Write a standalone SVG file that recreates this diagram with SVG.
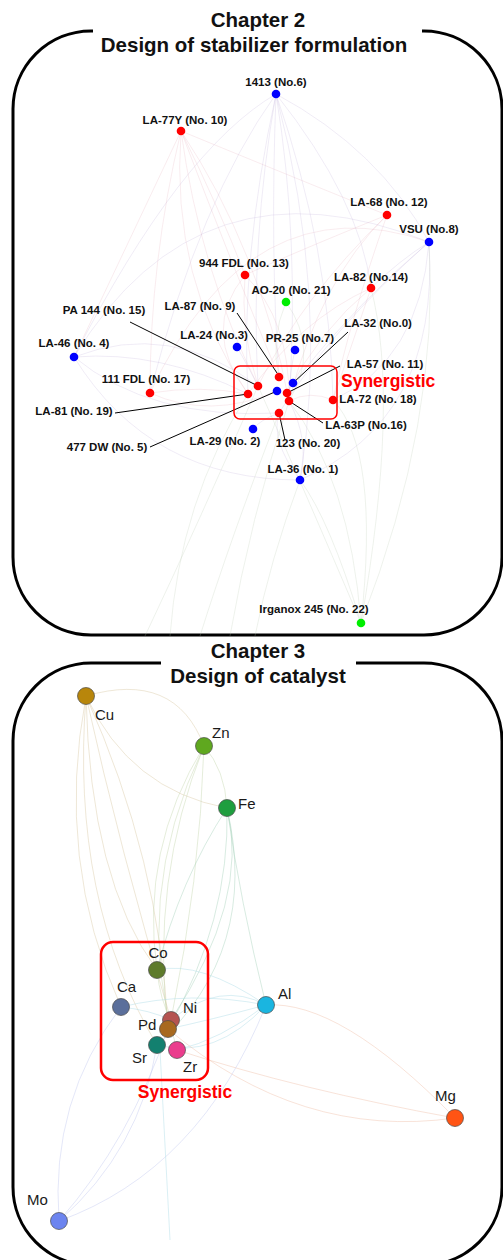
<svg xmlns="http://www.w3.org/2000/svg" width="503" height="1260" viewBox="0 0 503 1260">
<style>
.frame{fill:none;stroke:#000;stroke-width:3}
.title{font-family:"Liberation Sans",Arial,sans-serif;font-weight:bold;font-size:20.5px;fill:#111;text-anchor:middle}
.lbl{font-family:"Liberation Sans",Arial,sans-serif;font-weight:bold;font-size:11.5px;fill:#111}
.mid{text-anchor:middle}
.syn{font-family:"Liberation Sans",Arial,sans-serif;font-weight:bold;font-size:17.5px;fill:#f00}
.synbox{fill:none;stroke:#f00}
.el{font-family:"Liberation Sans",Arial,sans-serif;font-size:15px;fill:#1a1a1a}
.lead{stroke:#000;stroke-width:1;fill:none}
.ep{fill:none;stroke:#b9a3d6;stroke-width:0.7;opacity:0.3}
.er{fill:none;stroke:#e4a3b3;stroke-width:0.7;opacity:0.3}
.eg{fill:none;stroke:#b8c9b0;stroke-width:0.7;opacity:0.35}
.n2{stroke:none}
.n3{stroke:#4a4a4a;stroke-width:0.7}
.c1{fill:none;stroke:#d9cba8;stroke-width:0.7;opacity:0.65}
.c2{fill:none;stroke:#c5d8b0;stroke-width:0.7;opacity:0.65}
.c3{fill:none;stroke:#a9d4bc;stroke-width:0.7;opacity:0.65}
.c4{fill:none;stroke:#aedbe6;stroke-width:0.7;opacity:0.65}
.c5{fill:none;stroke:#f0c2ac;stroke-width:0.7;opacity:0.65}
.c6{fill:none;stroke:#c3cbef;stroke-width:0.7;opacity:0.65}
</style>

<!-- Chapter 2 frame -->
<g id="chapter2-frame">
<path class="frame" d="M422,31 H424 A78,78 0 0 1 502,109 V557 A78,78 0 0 1 424,635 H91 A78,78 0 0 1 13,557 V109 A78,78 0 0 1 91,31 H93"/>
<text class="title" x="258" y="27">Chapter 2</text>
<text class="title" x="254" y="52">Design of stabilizer formulation</text>
</g>

<!-- Chapter 2 connectors -->
<g id="ch2-connectors">
<path class="ep" d="M276,94 Q250,240 258,386"/>
<path class="ep" d="M276,94 Q300,240 289,401"/>
<path class="ep" d="M276,94 Q240,260 248,394"/>
<path class="ep" d="M276,94 Q330,250 333,400"/>
<path class="ep" d="M276,94 Q200,200 150,393"/>
<path class="ep" d="M276,94 Q360,200 371,288"/>
<path class="ep" d="M276,94 Q380,150 429,242"/>
<path class="ep" d="M276,94 Q330,300 300,480"/>
<path class="ep" d="M276,94 Q180,150 74,357"/>
<path class="ep" d="M276,94 Q270,250 279,377"/>
<path class="er" d="M181,131 Q200,270 258,386"/>
<path class="er" d="M181,131 Q230,260 279,377"/>
<path class="er" d="M181,131 Q170,280 248,394"/>
<path class="er" d="M181,131 Q260,250 289,401"/>
<path class="er" d="M181,131 Q150,260 150,393"/>
<path class="er" d="M181,131 Q300,180 387,215"/>
<path class="er" d="M181,131 Q220,210 245,275"/>
<path class="er" d="M181,131 Q120,260 74,357"/>
<path class="er" d="M387,215 Q320,280 289,401"/>
<path class="er" d="M387,215 Q300,300 258,386"/>
<path class="er" d="M387,215 Q350,320 333,400"/>
<path class="er" d="M387,215 Q300,250 245,275"/>
<path class="ep" d="M429,242 Q360,300 293,383"/>
<path class="ep" d="M429,242 Q420,360 333,400"/>
<path class="ep" d="M429,242 Q330,330 279,413"/>
<path class="ep" d="M429,242 Q440,420 300,480"/>
<path class="ep" d="M429,242 Q400,260 371,288"/>
<path class="er" d="M245,275 Q240,330 258,386"/>
<path class="er" d="M245,275 Q290,320 289,401"/>
<path class="er" d="M245,275 Q200,330 248,394"/>
<path class="er" d="M371,288 Q320,330 287,393"/>
<path class="er" d="M371,288 Q350,350 333,400"/>
<path class="er" d="M371,288 Q300,320 248,394"/>
<path class="eg" d="M286,302 Q270,340 279,377"/>
<path class="eg" d="M286,302 Q320,350 289,401"/>
<path class="ep" d="M74,357 Q160,350 248,394"/>
<path class="ep" d="M74,357 Q150,420 279,413"/>
<path class="ep" d="M74,357 Q170,320 258,386"/>
<path class="ep" d="M74,357 Q150,480 300,480"/>
<path class="ep" d="M74,357 Q200,150 429,242"/>
<path class="er" d="M150,393 Q200,385 248,394"/>
<path class="er" d="M150,393 Q210,420 277,391"/>
<path class="er" d="M150,393 Q250,180 429,242"/>
<path class="ep" d="M237,347 Q250,370 258,386"/>
<path class="ep" d="M295,350 Q290,370 289,401"/>
<path class="er" d="M333,400 Q310,390 289,401"/>
<path class="ep" d="M300,480 Q270,440 279,413"/>
<path class="ep" d="M300,480 Q310,440 289,401"/>
<path class="ep" d="M253,429 Q260,420 279,413"/>
<path class="eg" d="M361,623 Q350,480 289,401"/>
<path class="eg" d="M361,623 Q380,450 333,400"/>
<path class="eg" d="M361,623 Q300,480 258,386"/>
<path class="eg" d="M361,623 Q400,400 371,288"/>
<path class="eg" d="M361,623 Q440,420 429,242"/>
<path class="eg" d="M361,623 Q330,520 300,480"/>
<path class="eg" d="M258,386 Q200,520 145,636"/>
<path class="eg" d="M279,413 Q230,540 200,636"/>
<path class="eg" d="M289,401 Q250,520 230,636"/>
<path class="eg" d="M248,394 Q180,500 170,636"/>
<path class="eg" d="M300,480 Q270,560 255,636"/>
</g>

<!-- Chapter 2 leader lines -->
<g id="ch2-leaders">
<line class="lead" x1="130" y1="322" x2="258" y2="386"/>
<line class="lead" x1="237" y1="313" x2="277" y2="373"/>
<line class="lead" x1="348" y1="332" x2="293" y2="383"/>
<line class="lead" x1="340" y1="366" x2="287" y2="393"/>
<line class="lead" x1="115" y1="413" x2="248" y2="394"/>
<line class="lead" x1="150" y1="447" x2="277" y2="391"/>
<line class="lead" x1="285" y1="440" x2="279" y2="413"/>
<line class="lead" x1="323" y1="423" x2="289" y2="401"/>
</g>

<g id="ch2-synergistic">
<rect class="synbox" x="234" y="366" width="103" height="53" rx="6" stroke-width="1.5"/>
<text class="syn" x="341" y="387">Synergistic</text>
</g>

<!-- Chapter 2 nodes -->
<g id="n6"><circle class="n2" cx="276" cy="94" r="4.3" fill="#0000ff"/><text class="lbl mid" x="276" y="86">1413 (No.6)</text></g>
<g id="n10"><circle class="n2" cx="181" cy="131" r="4.3" fill="#ff0000"/><text class="lbl mid" x="185" y="124">LA-77Y (No. 10)</text></g>
<g id="n12"><circle class="n2" cx="387" cy="215" r="4.3" fill="#ff0000"/><text class="lbl mid" x="389" y="206">LA-68 (No. 12)</text></g>
<g id="n8"><circle class="n2" cx="429" cy="242" r="4.3" fill="#0000ff"/><text class="lbl mid" x="429" y="233">VSU (No.8)</text></g>
<g id="n13"><circle class="n2" cx="245" cy="275" r="4.3" fill="#ff0000"/><text class="lbl mid" x="244" y="267">944 FDL (No. 13)</text></g>
<g id="n14"><circle class="n2" cx="371" cy="288" r="4.3" fill="#ff0000"/><text class="lbl mid" x="371" y="281">LA-82 (No.14)</text></g>
<g id="n21"><circle class="n2" cx="286" cy="302" r="4.3" fill="#00ee00"/><text class="lbl mid" x="291" y="294">AO-20 (No. 21)</text></g>
<g id="n15"><circle class="n2" cx="258" cy="386" r="4.3" fill="#ff0000"/><text class="lbl mid" x="104" y="314">PA 144 (No. 15)</text></g>
<g id="n9"><circle class="n2" cx="279" cy="377" r="4.3" fill="#ff0000"/><text class="lbl mid" x="200" y="310">LA-87 (No. 9)</text></g>
<g id="n3"><circle class="n2" cx="237" cy="347" r="4.3" fill="#0000ff"/><text class="lbl mid" x="214" y="339">LA-24 (No.3)</text></g>
<g id="n4"><circle class="n2" cx="74" cy="357" r="4.3" fill="#0000ff"/><text class="lbl mid" x="74" y="347">LA-46 (No. 4)</text></g>
<g id="n7"><circle class="n2" cx="295" cy="350" r="4.3" fill="#0000ff"/><text class="lbl mid" x="300" y="342">PR-25 (No.7)</text></g>
<g id="n0"><circle class="n2" cx="293" cy="383" r="4.3" fill="#0000ff"/><text class="lbl mid" x="378" y="327">LA-32 (No.0)</text></g>
<g id="n11"><circle class="n2" cx="287" cy="393" r="4.3" fill="#ff0000"/><text class="lbl mid" x="385" y="368">LA-57 (No. 11)</text></g>
<g id="n17"><circle class="n2" cx="150" cy="393" r="4.3" fill="#ff0000"/><text class="lbl mid" x="146" y="383">111 FDL (No. 17)</text></g>
<g id="n19"><circle class="n2" cx="248" cy="394" r="4.3" fill="#ff0000"/><text class="lbl mid" x="74" y="415">LA-81 (No. 19)</text></g>
<g id="n5"><circle class="n2" cx="277" cy="391" r="4.3" fill="#0000ff"/><text class="lbl mid" x="107" y="451">477 DW (No. 5)</text></g>
<g id="n16"><circle class="n2" cx="289" cy="401" r="4.3" fill="#ff0000"/><text class="lbl mid" x="366" y="429">LA-63P (No.16)</text></g>
<g id="n18"><circle class="n2" cx="333" cy="400" r="4.3" fill="#ff0000"/><text class="lbl mid" x="378" y="403">LA-72 (No. 18)</text></g>
<g id="n20"><circle class="n2" cx="279" cy="413" r="4.3" fill="#ff0000"/><text class="lbl mid" x="308" y="447">123 (No. 20)</text></g>
<g id="n2"><circle class="n2" cx="253" cy="429" r="4.3" fill="#0000ff"/><text class="lbl mid" x="225" y="445">LA-29 (No. 2)</text></g>
<g id="n1"><circle class="n2" cx="300" cy="480" r="4.3" fill="#0000ff"/><text class="lbl mid" x="303" y="473">LA-36 (No. 1)</text></g>
<g id="n22"><circle class="n2" cx="361" cy="623" r="4.3" fill="#00ee00"/><text class="lbl mid" x="314" y="613">Irganox 245 (No. 22)</text></g>

<!-- Chapter 3 frame -->
<g id="chapter3-frame">
<path class="frame" d="M356,663 H424 A78,78 0 0 1 502,741 V1187 A78,78 0 0 1 424,1265 H91 A78,78 0 0 1 13,1187 V741 A78,78 0 0 1 91,663 H161"/>
<text class="title" x="258" y="658">Chapter 3</text>
<text class="title" x="258" y="683">Design of catalyst</text>
</g>

<!-- Chapter 3 connectors -->
<g id="ch3-connectors">
<path class="c1" d="M86,696 Q175,670 204,746"/>
<path class="c1" d="M86,696 Q130,790 227,808"/>
<path class="c1" d="M86,696 Q55,860 121,1007"/>
<path class="c1" d="M86,696 Q90,880 157,970"/>
<path class="c1" d="M86,696 Q120,850 171,1020"/>
<path class="c1" d="M86,696 Q160,860 168,1029"/>
<path class="c1" d="M86,696 Q70,900 157,1045"/>
<path class="c2" d="M204,746 Q140,850 157,970"/>
<path class="c2" d="M204,746 Q150,880 168,1029"/>
<path class="c2" d="M204,746 Q200,880 171,1020"/>
<path class="c2" d="M204,746 Q225,770 227,808"/>
<path class="c2" d="M204,746 Q130,900 177,1050"/>
<path class="c3" d="M227,808 Q250,900 171,1020"/>
<path class="c3" d="M227,808 Q230,920 168,1029"/>
<path class="c3" d="M227,808 Q260,950 157,1045"/>
<path class="c3" d="M227,808 Q240,900 266,1005"/>
<path class="c3" d="M227,808 Q180,880 157,970"/>
<path class="c4" d="M266,1005 Q220,980 171,1020"/>
<path class="c4" d="M266,1005 Q220,1040 177,1050"/>
<path class="c4" d="M266,1005 Q210,1020 168,1029"/>
<path class="c4" d="M266,1005 Q200,960 157,970"/>
<path class="c4" d="M266,1005 Q190,990 121,1007"/>
<path class="c4" d="M266,1005 Q215,1060 157,1045"/>
<path class="c5" d="M455,1118 Q300,1090 177,1050"/>
<path class="c5" d="M455,1118 Q300,1140 168,1029"/>
<path class="c5" d="M455,1118 Q340,1000 266,1005"/>
<path class="c6" d="M59,1221 Q140,1150 157,1045"/>
<path class="c6" d="M59,1221 Q130,1140 168,1029"/>
<path class="c6" d="M59,1221 Q50,1100 121,1007"/>
<path class="c6" d="M59,1221 Q200,1170 266,1005"/>
<path class="c4" d="M160,1050 L170,1240"/>
<path class="c4" d="M121,1007 Q150,1010 171,1020"/>
<path class="c2" d="M157,970 Q160,1000 171,1020"/>
</g>

<g id="ch3-synergistic">
<rect class="synbox" x="101" y="942" width="107" height="138" rx="12" stroke-width="2.5"/>
<text class="syn" x="185" y="1098" text-anchor="middle">Synergistic</text>
</g>

<!-- Chapter 3 nodes -->
<g id="cu"><circle class="n3" cx="86" cy="696" r="8.5" fill="#b8860b"/><text class="el" x="95" y="720">Cu</text></g>
<g id="zn"><circle class="n3" cx="204" cy="746" r="8.5" fill="#5fa81f"/><text class="el" x="212" y="738">Zn</text></g>
<g id="fe"><circle class="n3" cx="227" cy="808" r="8.5" fill="#1f9e3f"/><text class="el" x="238" y="809">Fe</text></g>
<g id="co"><circle class="n3" cx="157" cy="970" r="8.5" fill="#5e7b2b"/><text class="el" x="158" y="958" text-anchor="middle">Co</text></g>
<g id="ca"><circle class="n3" cx="121" cy="1007" r="8.5" fill="#5b6f9b"/><text class="el" x="117" y="992">Ca</text></g>
<g id="al"><circle class="n3" cx="266" cy="1005" r="8.5" fill="#1ab5e0"/><text class="el" x="278" y="999">Al</text></g>
<g id="ni"><circle class="n3" cx="171" cy="1020" r="8.5" fill="#b55450"/><text class="el" x="183" y="1013">Ni</text></g>
<g id="pd"><circle class="n3" cx="168" cy="1029" r="8.5" fill="#a8691f"/><text class="el" x="138" y="1030">Pd</text></g>
<g id="sr"><circle class="n3" cx="157" cy="1045" r="8.5" fill="#13806f"/><text class="el" x="132" y="1063">Sr</text></g>
<g id="zr"><circle class="n3" cx="177" cy="1050" r="8.5" fill="#ea3d8d"/><text class="el" x="183" y="1072">Zr</text></g>
<g id="mg"><circle class="n3" cx="455" cy="1118" r="8.5" fill="#ff5414"/><text class="el" x="435" y="1101">Mg</text></g>
<g id="mo"><circle class="n3" cx="59" cy="1221" r="8.5" fill="#6c84ef"/><text class="el" x="27" y="1205">Mo</text></g>
</svg>
